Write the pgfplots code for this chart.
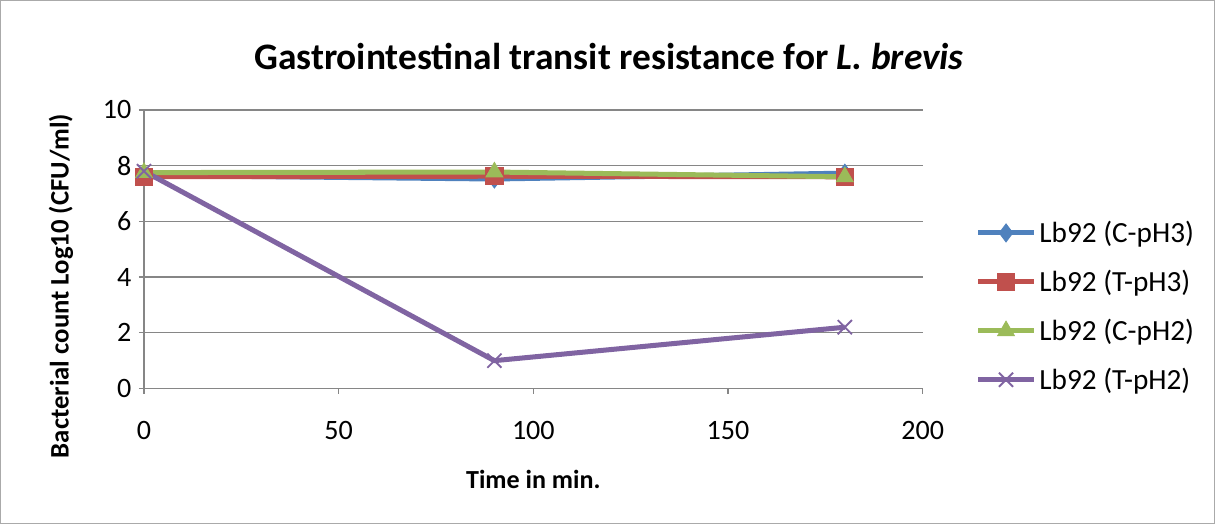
\documentclass[border=0pt]{standalone}
\usepackage{pgfplots}
\pgfplotsset{compat=1.18}
\usepackage{fontspec}
\setmainfont{Carlito}
\definecolor{cblue}{HTML}{4F81BD}
\definecolor{cred}{HTML}{C0504D}
\definecolor{cgreen}{HTML}{9BBB59}
\definecolor{cpurple}{HTML}{8064A2}
\definecolor{gridgray}{HTML}{868686}
\begin{document}
\begin{tikzpicture}[x=0.6pt,y=0.6pt]
\draw[draw=gridgray!70, line width=0.8pt] (2,2) rectangle (1213,524);
\node[font=\fontsize{22.4}{26}\selectfont\bfseries] at (609,468) {Gastrointestinal transit resistance for \textit{L. brevis}};
\begin{axis}[
  at={(87pt,82.2pt)}, anchor=south west,
  scale only axis, width=466.2pt, height=166.8pt,
  xmin=0, xmax=200, ymin=0, ymax=10,
  xtick={0,50,100,150,200}, ytick={0,2,4,6,8,10},
  axis lines=left, axis line style={draw=gridgray, line width=0.8pt, -},
  ymajorgrids, grid style={draw=gridgray, line width=0.8pt},
  tick align=outside, major tick length=3pt,
  tick style={draw=gridgray, line width=0.8pt},
  every tick label/.append style={font=\fontsize{16.8}{19}\selectfont},
  /pgf/number format/assume math mode=true,
  xticklabel style={yshift=-13pt},
  yticklabel style={xshift=-1pt},
  xlabel={\textbf{Time in min.}},
  xlabel style={font=\fontsize{15.6}{18}\selectfont, yshift=-11.5pt},
  ylabel={\textbf{Bacterial count Log10 (CFU/ml)}},
  ylabel style={font=\fontsize{16}{18}\selectfont, yshift=11pt, xshift=-22pt},
  clip=false,
  legend style={at={(1.068,0.295)}, anchor=west, draw=none, fill=none,
    font=\fontsize{17.5}{20}\selectfont, row sep=11pt, inner sep=0pt},
  legend cell align=left,
  legend image code/.code={
    \draw[#1, mark=none] (0pt,0pt) -- (33pt,0pt);
    \draw[#1, only marks] plot coordinates {(16.5pt,0pt)};
  },
]
\addplot[cblue, line width=3pt, mark=diamond*, mark size=5.4pt, mark options={solid, line width=0.5pt}] coordinates {(0,7.65) (90,7.52) (180,7.73)};
\addlegendentry{Lb92 (C-pH3)}
\addplot[cred, line width=3pt, mark=square*, mark size=5.2pt, mark options={solid, line width=0.5pt}] coordinates {(0,7.6) (90,7.62) (180,7.6)};
\addlegendentry{Lb92 (T-pH3)}
\addplot[cgreen, line width=3pt, mark=triangle*, mark size=5.8pt, mark options={solid, line width=0.5pt}] coordinates {(0,7.75) (90,7.77) (180,7.6)};
\addlegendentry{Lb92 (C-pH2)}
\addplot[cpurple, line width=3pt, mark=x, mark size=6pt, mark options={solid, line width=1.1pt}] coordinates {(0,7.8) (90,1.0) (180,2.2)};
\addlegendentry{Lb92 (T-pH2)}
\end{axis}
\end{tikzpicture}
\end{document}
